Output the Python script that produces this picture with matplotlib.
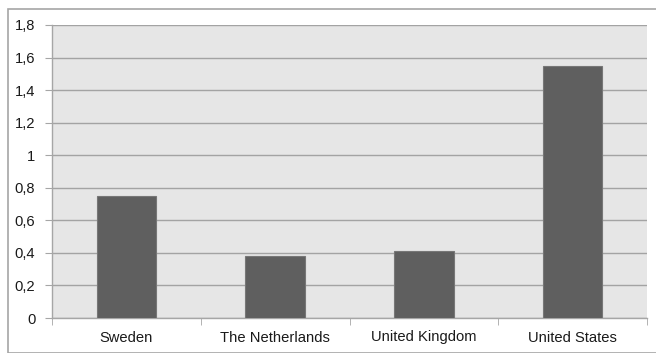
import matplotlib
matplotlib.use("Agg")
import matplotlib.pyplot as plt
from matplotlib.patches import Rectangle

categories = ["Sweden", "The Netherlands", "United Kingdom", "United States"]
values = [0.75, 0.38, 0.41, 1.55]
yticks = [0, 0.2, 0.4, 0.6, 0.8, 1.0, 1.2, 1.4, 1.6, 1.8]
ytick_labels = ["0", "0,2", "0,4", "0,6", "0,8", "1", "1,2", "1,4", "1,6", "1,8"]

plt.rcParams['font.family'] = ['Liberation Sans', 'DejaVu Sans']

fig = plt.figure(figsize=(6.56, 3.53), dpi=100)
fig.patch.set_facecolor("white")
fig.patches.append(Rectangle((8/656, 0.5/353), 1.2, 344/353, transform=fig.transFigure,
                             fill=False, edgecolor="#a6a6a6", linewidth=1.2))

ax = fig.add_axes([52/656, 35/353, 595/656, 293/353])
ax.set_facecolor("#e6e6e6")
x = list(range(len(categories)))
ax.bar(x, values, width=0.40, color="#5f5f5f", edgecolor="#777777", linewidth=0.8, zorder=3)
ax.set_xlim(-0.5, len(categories) - 0.5)
ax.set_ylim(0, 1.8)
ax.set_yticks(yticks)
ax.set_yticklabels(ytick_labels)
ax.yaxis.grid(True, color="#a3a3a3", linewidth=1.0, zorder=0)
ax.set_axisbelow(True)
ax.set_xticks(x)
ax.set_xticklabels(categories)
ax.set_xticks([i + 0.5 for i in range(-1, len(categories))], minor=True)
ax.tick_params(axis='x', which='major', length=0, pad=9, labelsize=10.6, labelcolor="#1a1a1a")
ax.tick_params(axis='x', which='minor', length=5, color="#a6a6a6", direction='out')
ax.tick_params(axis='y', length=5, color="#a6a6a6", direction='out', pad=7, labelsize=10.6, labelcolor="#1a1a1a")
for s in ["top", "right"]:
    ax.spines[s].set_visible(False)
for s in ["left", "bottom"]:
    ax.spines[s].set_color("#a6a6a6")
    ax.spines[s].set_linewidth(1.0)

fig.savefig("out.png", dpi=100)
